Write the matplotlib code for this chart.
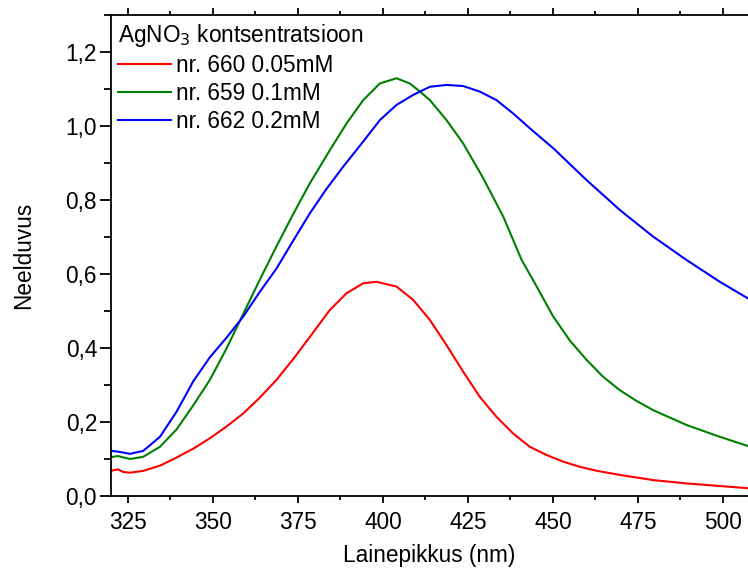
import matplotlib
matplotlib.use("Agg")
import matplotlib.pyplot as plt
from matplotlib.ticker import MultipleLocator, FuncFormatter

plt.rcParams['font.family'] = ['Liberation Sans', 'DejaVu Sans']

# Wavelength (nm) / absorbance data
x_red = [320, 322, 323.6, 325.6, 329.5, 334.4, 339.3, 344.2, 349.1, 354.0, 358.9, 363.8,
         368.7, 373.6, 378.5, 384.4, 389.3, 394.2, 398.1, 404.0, 408.9, 413.8, 418.7,
         423.6, 428.5, 433.4, 438.3, 443.2, 448.1, 453.0, 457.9, 463, 469.7, 479.5,
         489.3, 499.1, 507.4]
y_red = [0.068, 0.072, 0.065, 0.063, 0.068, 0.082, 0.104, 0.128, 0.156, 0.188, 0.223, 0.266,
         0.314, 0.370, 0.430, 0.503, 0.548, 0.575, 0.579, 0.566, 0.530, 0.476, 0.408,
         0.336, 0.268, 0.214, 0.169, 0.133, 0.111, 0.093, 0.079, 0.068, 0.057, 0.043,
         0.034, 0.027, 0.021]

x_green = [320, 322, 325.6, 329.5, 334.4, 339.3, 344.2, 349.1, 354.0, 358.9, 363.8, 368.7,
           373.6, 378.5, 384.4, 389.3, 394.2, 399.1, 404.0, 407.9, 410.9, 413.8, 418.7,
           423.6, 429.5, 435.4, 440.8, 445.0, 450.1, 455.0, 459.9, 464.8, 469.7, 474.6,
           479.5, 489.3, 499.1, 507.4]
y_green = [0.105, 0.108, 0.100, 0.106, 0.133, 0.180, 0.245, 0.314, 0.399, 0.492, 0.585, 0.675,
           0.762, 0.845, 0.935, 1.007, 1.070, 1.115, 1.129, 1.115, 1.093, 1.070, 1.016,
           0.953, 0.859, 0.755, 0.638, 0.570, 0.485, 0.420, 0.368, 0.322, 0.286, 0.257,
           0.232, 0.192, 0.160, 0.135]

x_blue = [320, 322, 325.6, 329.5, 334.4, 339.3, 344.2, 349.1, 354.0, 358.9, 363.8, 368.7,
          373.6, 378.5, 383.4, 388.3, 394.2, 399.1, 404.0, 408.9, 413.8, 418.7, 423.6,
          428.5, 433.4, 438.3, 443.2, 450.1, 459.9, 469.7, 479.5, 489.3, 499.1, 507.4]
y_blue = [0.122, 0.120, 0.114, 0.122, 0.160, 0.228, 0.310, 0.375, 0.428, 0.485, 0.552, 0.615,
          0.690, 0.764, 0.830, 0.890, 0.958, 1.016, 1.057, 1.084, 1.106, 1.111, 1.108,
          1.093, 1.070, 1.034, 0.994, 0.940, 0.854, 0.773, 0.701, 0.638, 0.579, 0.534]

labels = ["nr. 660 0.05mM", "nr. 659 0.1mM", "nr. 662 0.2mM"]
colors = ["#ff0000", "#008000", "#0000ff"]
legend_title = "AgNO$_3$ kontsentratsioon"
xlabel = "Lainepikkus (nm)"
ylabel = "Neelduvus"

fs = 16.3
fig = plt.figure(figsize=(7.48, 5.69), dpi=100)
ax = fig.add_axes([111/748, 1 - 496/569, 1 - 111/748, (496 - 15)/569])

for xs, ys, c, lab in zip([x_red, x_green, x_blue], [y_red, y_green, y_blue], colors, labels):
    ax.plot(xs, ys, color=c, lw=1.5, label=lab)

ax.set_xlim(320, 507.4)
ax.set_ylim(0, 1.3)
ax.xaxis.set_major_locator(MultipleLocator(25))
ax.xaxis.set_minor_locator(MultipleLocator(12.5))
ax.yaxis.set_major_locator(MultipleLocator(0.2))
ax.yaxis.set_minor_locator(MultipleLocator(0.1))
ax.yaxis.set_major_formatter(FuncFormatter(lambda v, p: f"{v:.1f}".replace('.', ',')))

for s in ax.spines.values():
    s.set_linewidth(1.3)
ax.spines['right'].set_visible(False)

ax.tick_params(axis='x', which='major', direction='out', length=5, width=1.3, labelsize=fs, pad=6, top=True)
ax.tick_params(axis='x', which='minor', direction='out', length=3, width=1.3, top=True)
ax.tick_params(axis='y', which='major', direction='out', length=8, width=1.3, labelsize=fs, pad=2)
ax.tick_params(axis='y', which='minor', direction='out', length=5, width=1.3)

ax.set_xlabel(xlabel, fontsize=fs, labelpad=7)
ax.set_ylabel(ylabel, fontsize=fs, labelpad=22)

leg = ax.legend(title=legend_title, loc='upper left', frameon=False, fontsize=fs,
                title_fontsize=fs, alignment='left', handlelength=2.33, handletextpad=0.25,
                labelspacing=0.22, borderaxespad=0.1, borderpad=0.2)

fig.savefig("out.png", dpi=100)
